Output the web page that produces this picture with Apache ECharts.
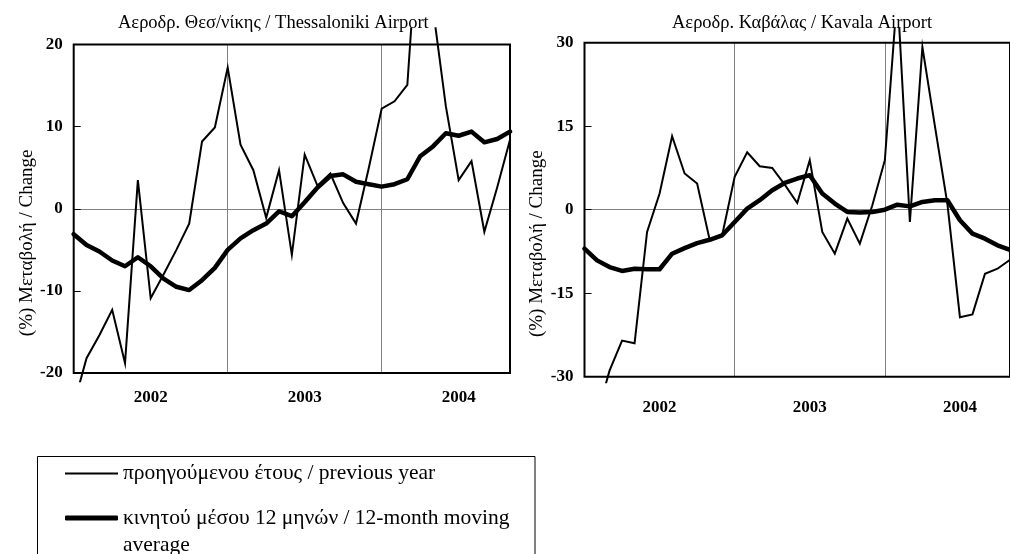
<!DOCTYPE html>
<html><head><meta charset="utf-8">
<script src="https://cdn.jsdelivr.net/npm/echarts@6/dist/echarts.min.js"></script>
<style>html,body{margin:0;padding:0;background:#fff}#c{width:1010px;height:554px}</style>
</head><body><div id="c"></div>
<script>
const months = ['2002-01','2002-02','2002-03','2002-04','2002-05','2002-06','2002-07','2002-08','2002-09','2002-10','2002-11','2002-12',
  '2003-01','2003-02','2003-03','2003-04','2003-05','2003-06','2003-07','2003-08','2003-09','2003-10','2003-11','2003-12',
  '2004-01','2004-02','2004-03','2004-04','2004-05','2004-06','2004-07','2004-08','2004-09','2004-10','2004-11'];
const yearLabelIndex = [6, 18, 30];
const yearBoundaryIndex = [12, 24];
const titles = ['Αεροδρ. Θεσ/νίκης / Thessaloniki Airport', 'Αεροδρ. Καβάλας / Kavala Airport'];
const seriesNames = ['προηγούμενου έτους / previous year', 'κινητού μέσου 12 μηνών / 12-month moving average'];
const yAxisName = '(%) Μεταβολή / Change';

const thessPrevYear = [-23.9,-18.2,-15.4,-12.3,-18.8,3.5,-10.9,-8.0,-5.0,-1.8,8.2,9.9,
  17.2,7.8,4.7,-1.1,4.7,-5.6,6.6,2.8,4.3,0.7,-1.8,5.0,
  12.2,13.1,15.1,38,24.4,12.5,3.5,5.8,-2.8,2.6,8.4];
const thessMovingAvg = [-3.1,-4.4,-5.2,-6.3,-7.0,-5.9,-7.0,-8.5,-9.5,-9.9,-8.7,-7.2,
  -5.0,-3.6,-2.6,-1.8,-0.3,-0.9,0.8,2.6,4.0,4.2,3.3,3.0,
  2.7,3.0,3.6,6.4,7.6,9.2,8.9,9.4,8.1,8.5,9.4];
const kavalaPrevYear = [-40,-37,-28.9,-23.5,-24.0,-4.0,2.9,13.2,6.5,4.7,-5.4,-4.6,
  5.9,10.3,7.8,7.5,4.5,1.2,8.9,-4.0,-7.9,-1.6,-6.1,0.8,
  8.9,39,-2.2,29.2,15,1.0,-19.3,-18.8,-11.5,-10.6,-9.0];
const kavalaMovingAvg = [-7.0,-9.1,-10.3,-11.0,-10.6,-10.7,-10.7,-7.9,-6.9,-6.0,-5.4,-4.6,
  -2.2,0.2,1.7,3.5,4.8,5.6,6.2,2.9,1.1,-0.4,-0.5,-0.4,
  0.0,0.9,0.6,1.4,1.7,1.7,-1.9,-4.3,-5.2,-6.4,-7.2];

const thessTicks = {min: -20, max: 20, step: 10};
const kavalaTicks = {min: -30, max: 30, step: 15};

const panels = [
  {title: titles[0], titleLeft: 118, prev: thessPrevYear, avg: thessMovingAvg, ticks: thessTicks,
   left: 73.7, width: 436.3, topB: 44.6, hB: 328.4, topA: 28.2, hA: 353.0, minA: -21, maxA: 22, nameGap: 37, xMargin: 16},
  {title: titles[1], titleLeft: 672, prev: kavalaPrevYear, avg: kavalaMovingAvg, ticks: kavalaTicks,
   left: 584.5, width: 434.5, topB: 42.7, hB: 334.0, topA: 28.2, hA: 354.1, minA: -31, maxA: 32.6, nameGap: 24, xMargin: 22}
];

const serif = 'Liberation Serif, Times New Roman, serif';
const grid = [], xAxis = [], yAxis = [], series = [], title = [];

panels.forEach((p, k) => {
  const gB = grid.length;
  grid.push({left: p.left, width: p.width, top: p.topB, height: p.hB, show: true, z: 5,
    borderColor: '#000', borderWidth: 2, backgroundColor: 'transparent', containLabel: false});
  const gA = grid.length;
  grid.push({left: p.left, width: p.width, top: p.topA, height: p.hA, show: false, containLabel: false});

  xAxis.push({type: 'category', gridIndex: gB, data: months, boundaryGap: false,
    axisLine: {show: false}, axisTick: {show: false},
    axisLabel: {interval: (i) => yearLabelIndex.includes(i), formatter: (v) => v.slice(0, 4),
      margin: p.xMargin, fontFamily: serif, fontWeight: 'bold', fontSize: 17, color: '#000'},
    splitLine: {show: true, interval: (i) => yearBoundaryIndex.includes(i), lineStyle: {color: '#808080', width: 1}}});
  const xA = xAxis.length;
  xAxis.push({type: 'category', gridIndex: gA, data: months, boundaryGap: false, show: false});

  yAxis.push({type: 'value', gridIndex: gB, min: p.ticks.min, max: p.ticks.max, interval: p.ticks.step,
    axisLine: {show: false}, axisTick: {show: true, inside: true, length: 7, lineStyle: {color: '#000', width: 1}},
    axisLabel: {margin: 11, fontFamily: serif, fontWeight: 'bold', fontSize: 17, color: '#000'},
    splitLine: {show: false},
    name: yAxisName, nameLocation: 'middle', nameGap: p.nameGap, nameRotate: 90,
    nameTextStyle: {fontFamily: serif, fontSize: 19, color: '#000', padding: [0, 68, 0, 0]}});
  const yA = yAxis.length;
  yAxis.push({type: 'value', gridIndex: gA, min: p.minA, max: p.maxA, show: false, splitLine: {show: false}});
  yAxis.push({type: 'value', gridIndex: gB, min: p.ticks.min, max: p.ticks.max, interval: p.ticks.max,
    axisLine: {show: false}, axisTick: {show: false}, axisLabel: {show: false},
    splitLine: {show: true, showMinLine: false, showMaxLine: false, lineStyle: {color: '#808080', width: 1}}});

  series.push({name: seriesNames[0], type: 'line', xAxisIndex: xA, yAxisIndex: yA, data: p.prev,
    showSymbol: false, symbol: 'none', z: 3, clip: true,
    lineStyle: {color: '#000', width: 2, join: 'miter', miterLimit: 10}, itemStyle: {color: '#000'}});
  series.push({name: seriesNames[1], type: 'line', xAxisIndex: xA, yAxisIndex: yA, data: p.avg,
    showSymbol: false, symbol: 'none', z: 4, clip: true,
    lineStyle: {color: '#000', width: 4.5, join: 'round', cap: 'round'}, itemStyle: {color: '#000'}});

  title.push({text: p.title, left: p.titleLeft, top: 14, padding: 0,
    textStyle: {fontFamily: serif, fontSize: 18.5, fontWeight: 'normal', color: '#000'}});
});

const legendText = {fontFamily: serif, fontSize: 21.5, color: '#000', lineHeight: 27};
const option = {
  animation: false,
  backgroundColor: '#fff',
  title: title,
  grid: grid, xAxis: xAxis, yAxis: yAxis, series: series,
  legend: [
    {data: [{name: seriesNames[0], icon: 'rect'}], left: 65, top: 460, padding: 0, orient: 'vertical',
      itemWidth: 53, itemHeight: 2, selectedMode: false, itemStyle: {color: '#000'},
      textStyle: Object.assign({}, legendText)},
    {data: [{name: seriesNames[1], icon: 'roundRect'}], left: 65, top: 477.5, padding: 0, orient: 'vertical',
      itemWidth: 53, itemHeight: 5, selectedMode: false, itemStyle: {color: '#000'},
      formatter: (n) => '\n' + n.replace(' average', '\naverage'),
      textStyle: Object.assign({}, legendText)}
  ],
  graphic: [{type: 'rect', shape: {x: 37.5, y: 456.5, width: 497.5, height: 130}, silent: true,
    style: {fill: 'none', stroke: '#000', lineWidth: 1}, z: 0}]
};
const chart = echarts.init(document.getElementById('c'), null, {renderer: 'canvas'});
chart.setOption(option);
</script></body></html>
